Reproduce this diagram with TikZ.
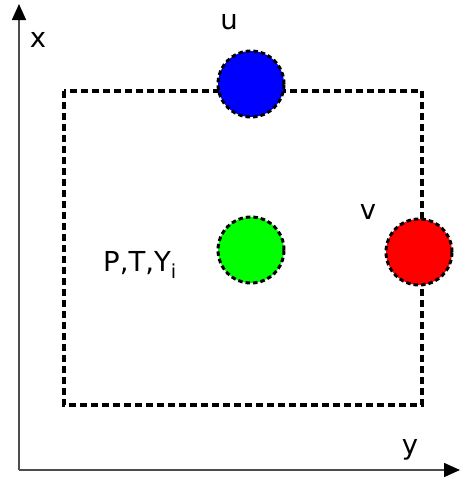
\documentclass[tikz,border=0pt]{standalone}
\usepackage{fontspec}
\setmainfont{DejaVu Sans}
\usetikzlibrary{arrows.meta,positioning}

\begin{document}
\begin{tikzpicture}[x=1pt,y=-1pt,font=\fontsize{27.5}{32}\selectfont,
  ball/.style={draw,circle,line width=3pt,dash pattern=on 4.5pt off 3pt,minimum size=66pt,inner sep=0pt},
  box/.style={line width=3.5pt,dash pattern=on 7pt off 4pt},
  axis/.style={-{Triangle[length=16pt,width=14pt,color=black]},line width=1.6pt,black!70}]
\useasboundingbox (0,0) rectangle (460,479);
% axes
\coordinate(o)    at(19,470);
\coordinate(xtip) at(19,4);
\coordinate(ytip) at(460,470);
\draw[axis](o)--(xtip);
\draw[axis](o)--(ytip);
\node(xl) at(38,40){x};
\node(yl) at(410,450){y};
% control volume
\coordinate(nw) at(64,91);
\coordinate(se) at(422,405);
\draw[box](nw) rectangle (se);
\node[ball,fill=blue](u)       at(251,84){};
\node[ball,fill=green](c)      at(251,250){};
\node[ball,fill=red](v)        at(419,252){};
\node(ul) at(229,22){u};
\node(vl) at(368,212){v};
\node(cl) at(140,265){P,T,Y\textsubscript{i}};
\end{tikzpicture}
\end{document}
